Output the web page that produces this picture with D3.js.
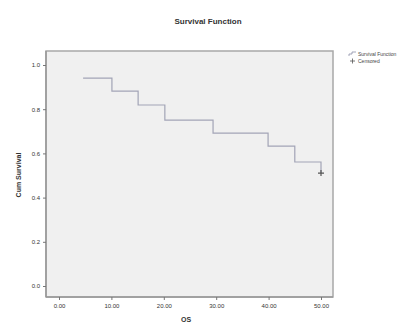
<!DOCTYPE html>
<html>
<head>
<meta charset="utf-8">
<script src="https://cdn.jsdelivr.net/npm/d3@7"></script>
<style>
  body { margin: 0; background: #fff; }
  text { font-family: "Liberation Sans", Arial, sans-serif; }
</style>
</head>
<body>
<div id="chart"></div>
<script>
// step times (OS) and survival after each event
const times = [4.6, 10.1, 15.1, 20.2, 29.4, 39.9, 45.0, 50.0];
const survival = [0.941, 0.882, 0.819, 0.751, 0.692, 0.633, 0.561, 0.511];
const censoredTimes = [50.0];
const censoredSurv = [0.511];
const xTicks = [0, 10, 20, 30, 40, 50];
const yTicks = [0, 0.2, 0.4, 0.6, 0.8, 1.0];
const legendItems = ['Survival Function', 'Censored'];

const width = 420, height = 326;
const frame = { left: 46, top: 51, right: 333, bottom: 297 };

const svg = d3.select('#chart').append('svg')
  .attr('width', width)
  .attr('height', height);

// plot area
svg.append('rect')
  .attr('x', frame.left)
  .attr('y', frame.top)
  .attr('width', frame.right - frame.left)
  .attr('height', frame.bottom - frame.top)
  .attr('fill', '#f0f0f0')
  .attr('stroke', '#a8a8a8')
  .attr('stroke-width', 1.5);

const x = d3.scaleLinear().domain([0, 50]).range([59, 321]);
const y = d3.scaleLinear().domain([0, 1]).range([286, 65]);

// axes
const xAxis = d3.axisBottom(x).tickValues(xTicks).tickFormat(d3.format('.2f')).tickSize(3);
const yAxis = d3.axisLeft(y).tickValues(yTicks).tickFormat(d3.format('.1f')).tickSize(3);

svg.append('g')
  .attr('transform', `translate(0, ${frame.bottom})`)
  .call(xAxis)
  .call(g => g.select('.domain').attr('d', `M${frame.left},0H${frame.right}`).attr('stroke', '#999').attr('stroke-width', 1.5))
  .call(g => g.selectAll('.tick line').attr('stroke', '#777'))
  .call(g => g.selectAll('text').attr('font-size', 6).attr('fill', '#333').attr('dy', '0.9em'));

svg.append('g')
  .attr('transform', `translate(${frame.left}, 0)`)
  .call(yAxis)
  .call(g => g.select('.domain').attr('d', `M0,${frame.top}V${frame.bottom}`).attr('stroke', '#999').attr('stroke-width', 1.5))
  .call(g => g.selectAll('.tick line').attr('stroke', '#777'))
  .call(g => g.selectAll('text').attr('font-size', 6).attr('fill', '#333'));

// survival step line
const pts = times.map((t, i) => [t, survival[i]]);
const path = d3.path();
pts.forEach((p, i) => {
  if (i === 0) {
    path.moveTo(x(p[0]), y(p[1]));
  } else {
    path.lineTo(x(p[0]), y(pts[i - 1][1]));
    path.lineTo(x(p[0]), y(p[1]));
  }
});

svg.append('path')
  .attr('d', path.toString())
  .attr('fill', 'none')
  .attr('stroke', '#a2a4b6')
  .attr('stroke-width', 1.2);

// censored marks
svg.selectAll('.cens')
  .data(censoredTimes.map((t, i) => [t, censoredSurv[i]]))
  .join('path')
  .attr('class', 'cens')
  .attr('d', d => `M${x(d[0]) - 3},${y(d[1])}H${x(d[0]) + 3}M${x(d[0])},${y(d[1]) - 3}V${y(d[1]) + 3}`)
  .attr('stroke', '#555')
  .attr('stroke-width', 1.2);

// titles
svg.append('text')
  .attr('x', 208)
  .attr('y', 24)
  .attr('text-anchor', 'middle')
  .attr('font-size', 8)
  .attr('font-weight', 'bold')
  .attr('fill', '#333')
  .text('Survival Function');

svg.append('text')
  .attr('x', 186)
  .attr('y', 322)
  .attr('text-anchor', 'middle')
  .attr('font-size', 7)
  .attr('font-weight', 'bold')
  .attr('fill', '#333')
  .text('OS');

svg.append('text')
  .attr('transform', 'translate(21, 175) rotate(-90)')
  .attr('text-anchor', 'middle')
  .attr('font-size', 7)
  .attr('font-weight', 'bold')
  .attr('fill', '#333')
  .text('Cum Survival');

// legend
const legend = svg.append('g')
  .attr('transform', 'translate(349, 54)')
  .selectAll('g')
  .data(legendItems)
  .join('g')
  .attr('transform', (d, i) => `translate(0, ${i * 7})`);

legend.append('path')
  .attr('d', (d, i) => i === 0 ? 'M0,2V0H3V-2H7' : 'M1,0H6M3.5,-2.5V2.5')
  .attr('fill', 'none')
  .attr('stroke', (d, i) => i === 0 ? '#8e90a8' : '#555')
  .attr('stroke-width', 0.8);

legend.append('text')
  .attr('x', 9)
  .attr('dy', '0.35em')
  .attr('font-size', 5)
  .attr('fill', '#444')
  .text(d => d);
</script>
</body>
</html>
